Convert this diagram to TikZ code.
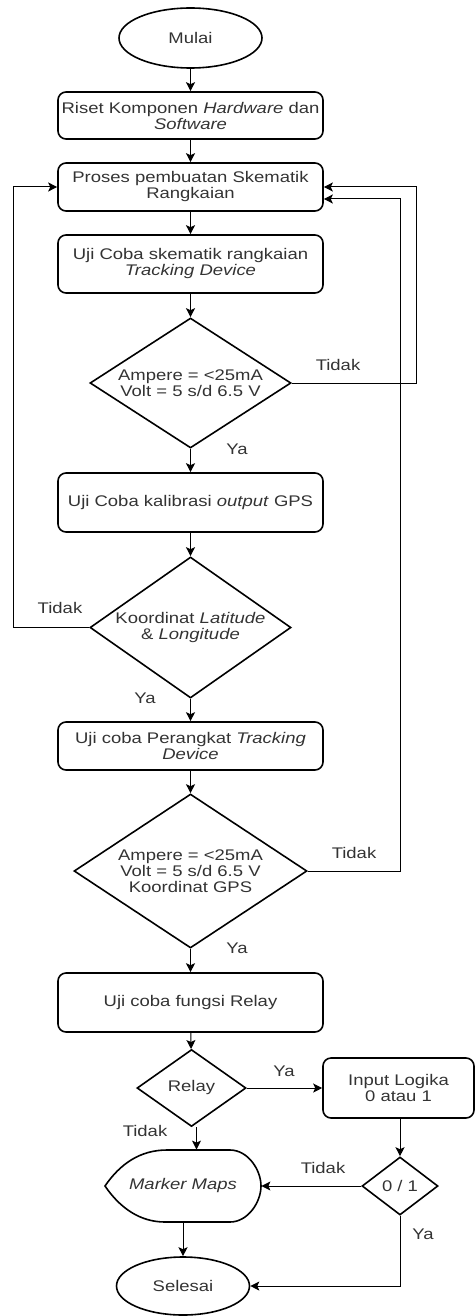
\documentclass[tikz,border=0pt]{standalone}
\usepackage{fontspec}
\setmainfont[FakeStretch=1.2]{Liberation Sans}
\usetikzlibrary{shapes.geometric,arrows.meta}
\tikzset{
  base/.style={draw=black, line width=0.8pt, inner sep=0pt, align=center, text=black!80},
  boxnode/.style={base, rectangle, rounded corners=4pt},
  term/.style={base, ellipse},
  dia/.style={base, diamond},
  txt/.style={inner sep=0pt, align=center, text=black!80},
  lbl/.style={inner sep=0pt, text=black!80},
  arr/.style={draw=black, line width=0.5pt, -{Stealth[length=4.5pt,width=4.5pt,inset=1pt]}},
  ln/.style={draw=black, line width=0.5pt}
}
\begin{document}
\begin{tikzpicture}[x=0.5pt,y=-0.5pt, font=\fontsize{7.7pt}{8pt}\selectfont]
\useasboundingbox (0,0) rectangle (475,1316);
% nodes
\node[term, minimum width=71.5pt, minimum height=30pt] (start) at (190.5,38) {Mulai};
\node[boxnode, minimum width=132.5pt, minimum height=23.5pt] (b1) at (190.5,115.5) {Riset Komponen \textit{Hardware} dan\\\textit{Software}};
\node[boxnode, minimum width=132.5pt, minimum height=24pt] (b2) at (190.5,187) {Proses pembuatan Skematik\\Rangkaian};
\node[boxnode, minimum width=132.5pt, minimum height=29pt] (b3) at (190.5,264) {Uji Coba skematik rangkaian\\\textit{Tracking Device}};
\node[dia, minimum width=100.5pt, minimum height=65pt] (d1) at (190.5,383) {};
\node[txt] (d1t) at (d1) {Ampere = <25mA\\Volt = 5 s/d 6.5 V};
\node[boxnode, minimum width=132.5pt, minimum height=29.5pt] (b4) at (190.5,502.5) {Uji Coba kalibrasi \textit{output} GPS};
\node[dia, minimum width=100.5pt, minimum height=70.5pt] (d2) at (190.5,627.5) {};
\node[txt] (d2t) at (d2) {Koordinat \textit{Latitude}\\\& \textit{Longitude}};
\node[boxnode, minimum width=132.5pt, minimum height=24pt] (b5) at (190.5,746) {Uji coba Perangkat \textit{Tracking}\\\textit{Device}};
\node[dia, minimum width=116.5pt, minimum height=77pt] (d3) at (190.5,871) {};
\node[txt] (d3t) at (d3) {Ampere = <25mA\\Volt = 5 s/d 6.5 V\\Koordinat GPS};
\node[boxnode, minimum width=132.5pt, minimum height=29.5pt] (b6) at (190.5,1002.5) {Uji coba fungsi Relay};
\node[dia, minimum width=54.5pt, minimum height=38.5pt] (d4) at (191.5,1088) {};
\node[txt] (d4t) at (d4) {Relay};
\node[boxnode, minimum width=75.5pt, minimum height=30pt] (b7) at (398.5,1088) {Input Logika\\0 atau 1};
\node[dia, minimum width=38pt, minimum height=29pt] (d5) at (400,1186) {};
\node[txt] (d5t) at (d5) {0 / 1};
\node[rectangle, inner sep=0pt, minimum width=78pt, minimum height=36pt, text=black!80] (mm) at (183,1186) {\textit{Marker Maps}};
\draw[line width=0.8pt] (105,1186) .. controls (120,1164) and (140,1150) .. (167,1150) -- (230,1150) .. controls (248,1150) and (261,1170) .. (261,1186) .. controls (261,1202) and (248,1222) .. (230,1222) -- (165,1222) .. controls (140,1222) and (120,1208) .. (105,1186) -- cycle;
\node[term, minimum width=66.5pt, minimum height=29pt] (end) at (183,1286) {Selesai};
% helper coordinates
\coordinate (l1) at (13,0);
\coordinate (r1) at (416,0);
\coordinate (r2) at (400,0);
\coordinate (b2in) at ([yshift=-6pt]b2.east);
% connectors
\draw[arr] (start) -- (b1);
\draw[arr] (b1) -- (b2);
\draw[arr] (b2) -- (b3);
\draw[arr] (b3) -- (d1);
\draw[arr] (d1) -- (b4);
\draw[arr] (b4) -- (d2);
\draw[arr] (d2) -- (b5);
\draw[arr] (b5) -- (d3);
\draw[arr] (d3) -- (b6);
\draw[arr] (b6) -- (d4);
\draw[arr] (d1.east) -| (r1 |- b2.east) -- (b2.east);
\draw[arr] (d2.west) -| (l1 |- b2.west) -- (b2.west);
\draw[arr] (d3.east) -| (r2 |- b2in) -- (b2in);
\draw[arr] (d4.east) -- (b7.west);
\draw[arr] (b7.south -| d5.north) -- (d5.north);
\draw[arr] (d5.west) -- (mm.east);
\draw[arr] (d5.south) |- (end.east);
\draw[arr] (mm.south) -- (end.north);
\draw[arr] ([xshift=2.5pt]d4.south) -- ([xshift=2.5pt]d4.south |- mm.north);
% labels
\node[lbl] (t1) at (338,365) {Tidak};
\node[lbl] (y1) at (237,449) {Ya};
\node[lbl] (t2) at (60,608) {Tidak};
\node[lbl] (y2) at (145,698) {Ya};
\node[lbl] (t3) at (354,853) {Tidak};
\node[lbl] (y3) at (237,948) {Ya};
\node[lbl] (y4) at (284,1071) {Ya};
\node[lbl] (t4) at (145,1131) {Tidak};
\node[lbl] (t5) at (323,1168) {Tidak};
\node[lbl] (y5) at (423,1234) {Ya};
\end{tikzpicture}
\end{document}
